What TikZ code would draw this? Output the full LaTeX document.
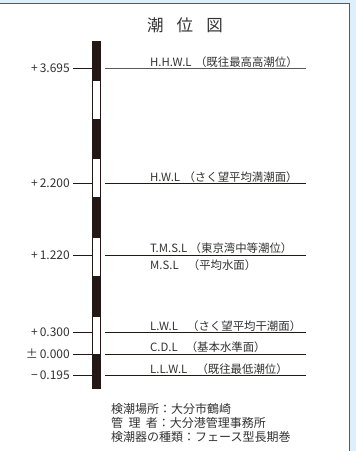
\documentclass[tikz,border=0pt]{standalone}
\usepackage{fontspec}
\setmainfont{Noto Sans CJK JP}
\definecolor{bgblue}{HTML}{DDEFFA}
\definecolor{framegray}{HTML}{5A5A5A}
\definecolor{barblack}{HTML}{231815}
\definecolor{txt}{HTML}{333333}
\begin{document}
\begin{tikzpicture}[x=1pt,y=-1pt,
  lvl/.style={anchor=east,font=\fontsize{12}{13}\selectfont,text=txt,inner sep=0pt},
  lbl/.style={anchor=base west,font=\fontsize{11.4}{12}\selectfont,text=txt,inner sep=0pt},
  info/.style={anchor=base west,font=\fontsize{12}{13}\selectfont,text=txt,inner sep=0pt},
  tick/.style={draw=barblack,line width=0.8pt},
  level/.style={draw=barblack,line width=0.9pt},
  blk/.style={fill=barblack,draw=barblack,line width=0.6pt},
  wht/.style={fill=white,draw=barblack,line width=0.6pt}]
\useasboundingbox (0,0) rectangle (356,451);
\fill[bgblue] (0,0) rectangle (356,451);
\fill[white] (0,3.5) rectangle (349,451);
\draw[framegray,line width=1pt] (0,3.5) -- (349,3.5) -- (349,451);
% title
\node[font=\fontsize{16.5}{18}\selectfont,text=txt] (title) at (185,25) {潮\hspace{0.8em}位\hspace{0.8em}図};
% bar
\fill[blk] (92,41) rectangle (100,80.7);
\fill[wht] (92,80.7) rectangle (100,119.3);
\fill[blk] (92,119.3) rectangle (100,158.3);
\fill[wht] (92,158.3) rectangle (100,197.7);
\fill[blk] (92,197.7) rectangle (100,237.3);
\fill[wht] (92,237.3) rectangle (100,276);
\fill[blk] (92,276) rectangle (100,316);
\fill[wht] (92,316) rectangle (100,354);
\fill[blk] (92,354) rectangle (100,388);
\draw[barblack,line width=0.6pt] (92,41) rectangle (100,388);
% levels: left labels and ticks
\foreach \y/\t/\n in {68.3/{+\,3.695}/a, 183.3/{+\,2.200}/b, 255/{+\,1.220}/c, 332.3/{+\,0.300}/d, 354/{±\,0.000}/e, 375.7/{−\,0.195}/f}{
  \node[lvl] (num\n) at (70,\y) {\t};
  \coordinate (tl\n) at (73,\y);
  \coordinate (tr\n) at (92,\y);
  \draw[tick] (tl\n) -- (tr\n);
  \coordinate (ll\n) at (105,\y);
  \coordinate (lr\n) at (306,\y);
}
\draw[level,draw=framegray,line width=1.1pt] (lla) -- (lra);
\foreach \n in {b,c,d,e,f}{\draw[level] (ll\n) -- (lr\n);}
% level names
\node[lbl] (ta) at (150,66) {H.H.W.L\hspace{0.3em}（既往最高高潮位）};
\node[lbl] (tb) at (150,181) {H.W.L\hspace{0.3em}（さく望平均満潮面）};
\node[lbl] (tc) at (150,252.5) {T.M.S.L\hspace{0.2em}（東京湾中等潮位）};
\node[lbl] (tc2) at (150,269) {M.S.L\hspace{0.8em}（平均水面）};
\node[lbl] (td) at (150,330) {L.W.L\hspace{0.8em}（さく望平均干潮面）};
\node[lbl] (te) at (150,351.5) {C.D.L\hspace{0.7em}（基本水準面）};
\node[lbl] (tf) at (150,373.5) {L.L.W.L\hspace{0.8em}（既往最低潮位）};
% info
\node[info] (i1) at (111,413.5) {検潮場所：大分市鶴崎};
\node[info] (i2) at (111,427.5) {管\hspace{0.45em}理\hspace{0.45em}者：大分港管理事務所};
\node[info] (i3) at (111,441) {検潮器の種類：フェース型長期巻};
\end{tikzpicture}
\end{document}
